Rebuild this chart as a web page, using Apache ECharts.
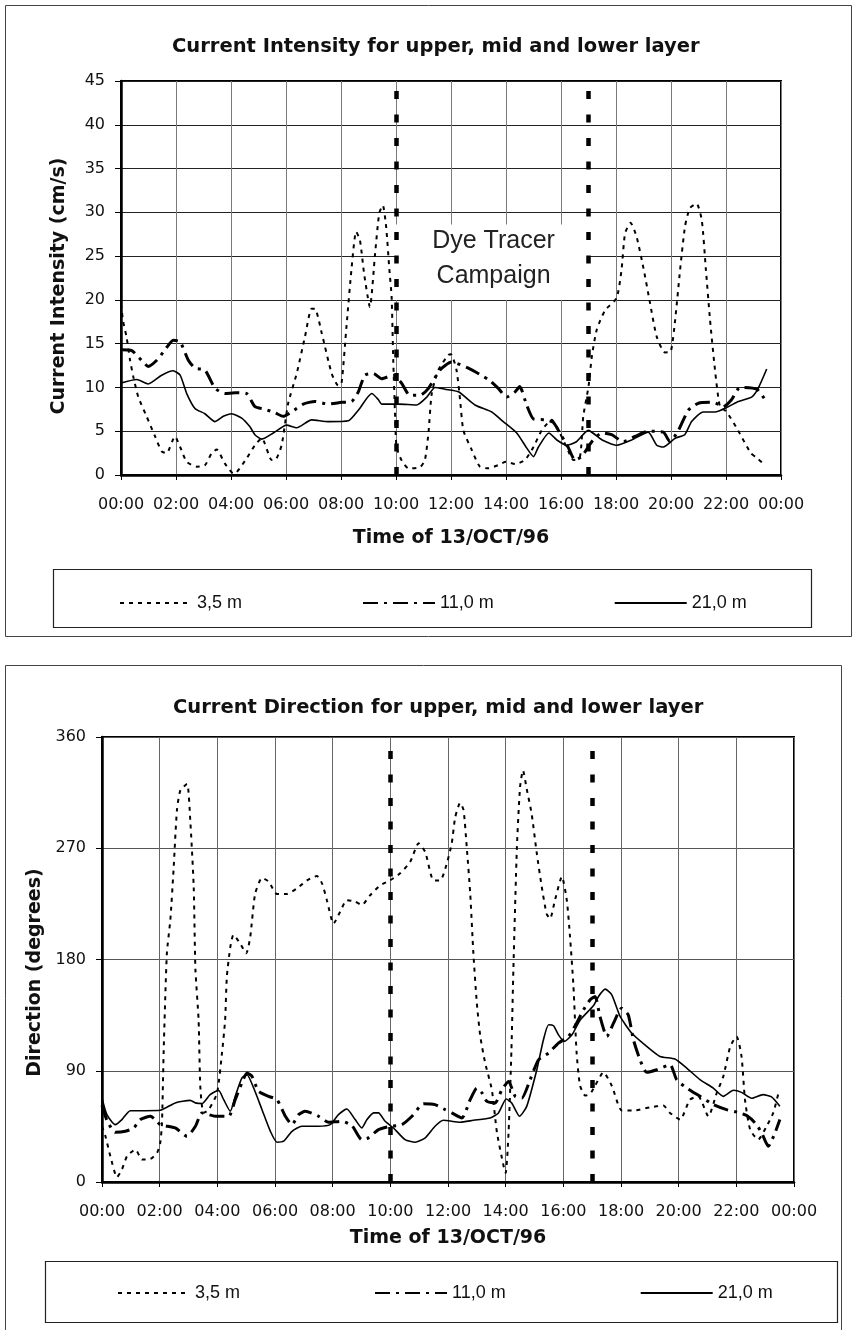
<!DOCTYPE html>
<html>
<head>
<meta charset="utf-8">
<title>Current intensity and direction, 13/OCT/96</title>
<script src="https://cdn.jsdelivr.net/npm/echarts@6/dist/echarts.min.js"></script>
<style>
  html, body { margin: 0; padding: 0; background: #fff; }
  #chart { width: 855px; height: 1330px; }
</style>
</head>
<body>
<div id="chart"></div>
<script>
// legend names
var layers = ["3,5 m", "11,0 m", "21,0 m"];

// x ticks (hours of the day) and the two campaign markers
var hourTicks = [0, 2, 4, 6, 8, 10, 12, 14, 16, 18, 20, 22, 24];
var campaign = [10, 17];

// ---- Current intensity (cm/s) ----
var intHours35 = [0,0.08,0.2,0.33,0.45,0.63,0.93,1.24,1.48,1.66,
  1.96,2.15,2.39,2.75,3.05,3.3,3.48,3.78,4.08,4.2,
  4.57,4.87,5.12,5.48,5.6,5.84,6.08,6.39,6.69,6.93,
  7.05,7.3,7.66,7.9,8.02,8.2,8.39,8.55,8.69,8.84,
  9.05,9.24,9.39,9.52,9.64,9.76,9.84,9.9,9.96,10.02,
  10.2,10.45,10.87,11.05,11.18,11.3,11.54,11.9,12.0,12.2,
  12.33,12.45,12.75,13.05,13.36,13.72,14.0,14.33,14.69,15.0,
  15.3,15.66,15.96,16.27,16.45,16.69,16.81,17.0,17.12,17.3,
  17.6,18.02,18.2,18.33,18.53,18.75,19.0,19.24,19.48,19.78,
  19.99,20.15,20.33,20.51,20.69,20.93,21.12,21.27,21.42,21.6,
  21.78,22.0,22.4,22.9,23.1,23.36];
var intVals35 = [19.5,17.5,15.8,13.1,11.2,8.9,6.7,4.4,2.7,2.5,
  4.4,3.2,1.5,0.95,1.1,2.5,2.9,1.3,0.2,0.3,
  1.9,3.4,4.2,1.7,1.7,3.4,8.2,11.6,15.8,19.0,
  19.0,16.2,11.6,10.2,10.5,17.0,23.8,27.8,26.8,23.0,
  19.2,25.3,29.9,30.8,28.4,23.4,20.4,13.1,7.4,3.2,
  1.7,0.76,0.88,1.7,4.8,9.3,12.0,13.7,13.8,12.0,
  8.6,5.1,2.9,0.95,0.76,1.14,1.5,1.25,1.7,3.2,
  5.1,6.3,4.8,2.7,1.7,2.1,6.7,10.1,13.5,16.6,
  18.8,20.2,23.4,27.6,28.8,27.2,23.6,19.6,15.8,14.0,
  14.1,17.7,23.4,28.4,30.5,31.0,29.1,23.4,17.7,12.0,
  7.8,7.3,5.3,2.5,2.0,1.3];

var intHours11 = [0,0.39,0.75,0.99,1.3,1.6,1.9,2.15,2.45,2.69,
  3.05,3.42,3.78,4.15,4.57,4.87,5.24,5.6,5.9,6.2,
  6.63,7.05,7.54,8.02,8.39,8.63,8.87,9.18,9.48,9.9,
  10.2,10.5,10.87,11.18,11.6,12.02,12.63,13.36,13.72,14.02,
  14.33,14.5,14.75,15.0,15.42,15.72,15.96,16.27,16.51,16.75,
  17.12,17.48,17.84,18.27,18.69,19.17,19.72,19.96,20.27,20.63,
  21.0,21.54,21.9,22.2,22.51,23.12,23.42];
var intVals11 = [14.3,14.2,13.1,12.4,13.1,14.3,15.4,15.2,13.1,12.2,
  12.0,9.9,9.3,9.4,9.3,7.8,7.5,7.1,6.7,7.2,
  8.1,8.4,8.1,8.3,8.4,9.5,11.4,11.6,11.0,11.4,
  10.5,9.1,9.1,9.9,12.0,12.9,12.2,10.9,9.9,8.9,
  9.5,10.1,8.0,6.4,6.3,6.0,4.8,3.1,1.7,2.1,
  3.8,4.8,4.6,3.8,4.4,5.0,4.9,3.8,5.1,7.4,
  8.2,8.3,7.8,8.6,10.0,9.8,8.6];

var intHours21 = [0,0.57,0.99,1.48,1.9,2.15,2.39,2.69,3.05,3.42,
  3.72,4.02,4.39,4.69,4.87,5.12,5.54,6.02,6.39,6.93,
  7.54,8.27,8.63,9.12,9.36,9.48,10.1,10.75,11.12,11.42,
  11.78,12.27,12.87,13.48,13.9,14.39,14.75,15.0,15.18,15.56,
  15.85,16.2,16.56,16.99,17.5,18.03,18.57,19.17,19.48,19.72,
  20.15,20.5,20.75,21.17,21.6,22.08,22.45,22.93,23.17,23.48];
var intVals21 = [10.5,10.9,10.4,11.4,11.9,11.4,9.3,7.6,7.0,6.1,
  6.7,7.0,6.5,5.5,4.6,4.1,4.8,5.7,5.4,6.3,
  6.1,6.2,7.4,9.3,8.6,8.1,8.1,8.0,8.9,10.0,
  9.8,9.5,8.0,7.2,6.1,4.8,3.1,2.1,3.2,4.8,
  4.0,3.4,3.8,5.1,4.0,3.4,4.0,4.9,3.4,3.2,
  4.2,4.6,6.1,7.2,7.2,7.8,8.4,8.9,9.9,12.1];

// ---- Current direction (degrees) ----
var dirHours35 = [0,0.12,0.29,0.52,0.69,0.87,1.16,1.39,1.68,1.91,
  2.02,2.08,2.14,2.25,2.37,2.48,2.6,2.72,2.95,3.06,
  3.18,3.24,3.35,3.41,3.52,3.7,3.99,4.16,4.27,4.33,
  4.45,4.56,4.79,5.0,5.14,5.31,5.55,5.78,6.07,6.41,
  6.76,7.11,7.45,7.63,7.8,8.03,8.26,8.49,8.78,9.01,
  9.3,9.65,9.99,10.34,10.69,10.98,11.21,11.5,11.73,11.96,
  12.13,12.25,12.42,12.54,12.65,12.77,12.88,13.0,13.12,13.29,
  13.52,13.7,13.93,14.0,14.1,14.2,14.27,14.39,14.5,14.6,
  14.73,14.9,15.08,15.25,15.42,15.54,15.71,15.95,16.12,16.23,
  16.35,16.46,16.58,16.76,16.93,17.1,17.39,17.68,18.03,18.43,
  19.0,19.47,19.7,20.05,20.39,20.68,21.03,21.32,21.55,21.79,
  22.01,22.18,22.3,22.48,22.76,23.05,23.28,23.49];
var dirVals35 = [45,37,20.9,3.9,10.1,20.9,26.2,18.2,18.7,23.6,
  31.6,47.8,107,185,212,252,301,317,322,293,
  239,172,131,77,56,58.5,72,104,131,166,
  190,200,193,185,198,233,246,243,233,233,
  237.5,244,247.5,241.6,228,209,218.7,228,226.8,224,
  232,240,244,249.7,259,274,267,244,244,257.7,
  274,295,306.7,300.8,271,233.5,185,144.7,117.8,96.2,
  74.7,39.7,12.8,7.4,39.7,107,174,271,319.7,333,
  318,298,265.8,239,217,213,228,247,228,199,
  158.6,104.8,77.9,69.9,71.3,77.9,88.7,77.9,57.8,57.8,
  60.4,61.8,55.9,50.5,66.6,69.3,53.2,72,85.5,109.7,
  117.8,101.6,66.6,42.4,34.3,45.1,55.9,74.7];

var dirHours11 = [0,0.17,0.46,0.81,1.1,1.33,1.68,1.85,2.02,2.54,
  2.95,3.24,3.47,3.93,4.39,4.62,4.85,5.03,5.2,5.43,
  5.78,6.07,6.36,6.59,6.82,7.05,7.51,7.86,8.32,8.67,
  9.01,9.24,9.59,10.0,10.4,10.75,11.15,11.55,11.9,12.13,
  12.48,12.77,13.0,13.18,13.35,13.63,13.87,14.1,14.33,14.56,
  14.85,15.14,15.49,15.83,16.18,16.46,16.7,16.93,17.1,17.27,
  17.51,17.74,18.02,18.25,18.43,18.66,18.89,19.24,19.7,19.93,
  20.28,20.74,21.2,21.66,22.13,22.36,22.65,22.88,23.11,23.34,
  23.51];
var dirVals11 = [62,50,40.2,41,43.7,50.5,53.2,50.5,46.4,43.7,
  37,45.1,55.9,53.2,53.2,66.6,80.1,88.2,85.5,73.4,
  69.3,66.6,53.2,46.4,54.5,57.2,53.2,48.3,49.1,45.6,
  34.3,35.7,42.4,45.1,46.4,53.2,63.3,62.6,58.5,55.9,
  51.8,66.6,76,72,65.2,63.9,74.7,81.4,69.3,67.9,
  82.8,98.9,104.3,112.4,117.8,128.5,139.3,147.4,150.1,133.9,
  117.8,128.5,140.6,135.3,115.1,98.9,88.7,90.8,94.9,82.8,
  76,69.3,62.6,58.5,55.9,53.7,47.8,39.7,28.9,39.7,
  50.5];

var dirHours21 = [0,0.17,0.46,0.69,0.98,1.5,2.02,2.54,3.06,3.24,
  3.47,3.75,4.04,4.22,4.45,4.62,4.85,5.03,5.26,5.55,
  5.84,6.07,6.3,6.59,6.93,7.51,7.91,8.2,8.49,8.78,
  9.01,9.19,9.42,9.59,9.82,10.11,10.51,10.86,11.21,11.55,
  11.84,12.42,12.88,13.46,13.75,14.02,14.21,14.48,14.73,15.08,
  15.31,15.49,15.66,15.83,16.03,16.3,16.59,17.04,17.22,17.45,
  17.68,17.97,18.37,18.89,19.35,19.87,20.28,20.74,21.2,21.55,
  21.9,22.18,22.53,22.93,23.22,23.51];
var dirVals21 = [68,54.5,46.4,50.5,57.7,57.7,58,64,66,64,
  63.5,70.7,74.2,66.6,57.2,69.3,84.1,86.8,76,58.5,
  41,32.2,33,41,45.1,45.1,46.4,54.5,59.1,50.5,
  43.7,50.5,55.9,55.9,49.1,43.7,34.3,32.2,35.7,45.1,
  49.9,48.3,49.9,51.8,55.9,67.2,63.9,53.2,61.2,90.8,
  115.1,127.2,126.4,119.1,113.7,119.1,131.2,142.5,150.1,156,
  151.4,133.9,120.5,109.7,101.6,99.5,92.2,82.8,76,69.3,
  74.2,72.5,67.7,70.7,68.8,61.2];

function pairs(hours, vals) {
  return hours.map(function (h, i) { return [h, vals[i]]; });
}

function hourLabel(v) {
  var h = v % 24;
  return (h < 10 ? "0" : "") + h + ":00";
}

var dotted = { color: "#000", width: 2, type: [4, 5] };
var dashDot = { color: "#000", width: 3, type: [15, 6, 3, 6] };
var solid = { color: "#000", width: 1.6, type: "solid" };
var layerStyles = [dotted, dashDot, solid];

function layerSeries(idx, list) {
  return list.map(function (d, i) {
    return {
      name: layers[i],
      type: "line",
      xAxisIndex: idx,
      yAxisIndex: idx,
      data: pairs(d[0], d[1]),
      symbol: "none",
      showSymbol: false,
      smooth: 0.2,
      lineStyle: layerStyles[i],
      itemStyle: { color: "#000" },
      z: 3,
      silent: true
    };
  });
}

function campaignLines(idx) {
  return {
    type: "line",
    xAxisIndex: idx,
    yAxisIndex: idx,
    data: [],
    z: 5,
    silent: true,
    markLine: {
      silent: true,
      symbol: ["none", "none"],
      label: { show: false },
      lineStyle: { color: "#000", width: 4.5, type: [8, 15.5] },
      data: campaign.map(function (c) { return { xAxis: c }; })
    }
  };
}

var tickFont = { fontFamily: "DejaVu Sans", fontSize: 16, color: "#111" };
var nameFont = { fontFamily: "DejaVu Sans", fontSize: 19, fontWeight: "bold", color: "#111" };
var titleFont = { fontFamily: "DejaVu Sans", fontSize: 19.5, fontWeight: "bold", color: "#111" };
var legendFont = { fontFamily: "Liberation Sans", fontSize: 18, color: "#111" };

function xAxisFor(idx, gap) {
  return {
    type: "value",
    gridIndex: idx,
    min: 0, max: 24, interval: 2,
    name: "Time of 13/OCT/96",
    nameLocation: "middle",
    nameGap: gap,
    nameTextStyle: nameFont,
    axisLine: { show: true, lineStyle: { color: "#000", width: 2.5 } },
    axisTick: { show: true, length: 5, lineStyle: { color: "#000", width: 1 } },
    axisLabel: Object.assign({ margin: 22, formatter: hourLabel }, tickFont),
    splitLine: { show: true, lineStyle: { color: idx === 0 ? "#7a7a7a" : "#666", width: 1 } }
  };
}

function yAxisFor(idx, max, step, name, gap, pad) {
  return {
    type: "value",
    gridIndex: idx,
    min: 0, max: max, interval: step,
    name: name,
    nameLocation: "middle",
    nameGap: gap,
    nameTextStyle: Object.assign({ padding: pad }, nameFont),
    axisLine: { show: true, lineStyle: { color: "#000", width: 2.5 } },
    axisTick: { show: true, length: 6, lineStyle: { color: "#000", width: 1 } },
    axisLabel: Object.assign({ margin: 16 }, tickFont),
    splitLine: { show: true, lineStyle: { color: idx === 0 ? "#222" : "#555", width: 1 } }
  };
}

function legendFor(left, top, gap) {
  return {
    data: layers,
    left: left, top: top,
    itemWidth: 72, itemHeight: 14, itemGap: gap,
    selectedMode: false,
    itemStyle: { opacity: 0 },
    textStyle: legendFont
  };
}

var chart = echarts.init(document.getElementById("chart"));

var series = []
  .concat(layerSeries(0, [[intHours35, intVals35], [intHours11, intVals11], [intHours21, intVals21]]))
  .concat(layerSeries(1, [[dirHours35, dirVals35], [dirHours11, dirVals11], [dirHours21, dirVals21]]))
  .concat([
    {
      // white label box between the two campaign markers
      type: "line",
      xAxisIndex: 0,
      yAxisIndex: 0,
      data: [],
      z: 1,
      silent: true,
      markArea: {
        silent: true,
        itemStyle: { color: "#fff", borderWidth: 0 },
        label: {
          show: true,
          position: "inside",
          formatter: "Dye Tracer\nCampaign",
          fontFamily: "Liberation Sans",
          fontSize: 25,
          lineHeight: 35,
          color: "#222",
          offset: [2, -4]
        },
        data: [[{ xAxis: 10, yAxis: 20 }, { xAxis: 16.95, yAxis: 28.6 }]]
      }
    },
    campaignLines(0),
    campaignLines(1)
  ]);

chart.setOption({
  animation: false,
  backgroundColor: "#fff",
  textStyle: { fontFamily: "DejaVu Sans" },
  title: [
    {
      text: "Current Intensity for upper, mid and lower layer",
      left: 172,
      top: 37,
      padding: 0,
      textStyle: titleFont
    },
    {
      text: "Current Direction for upper, mid and lower layer",
      left: 173,
      top: 698,
      padding: 0,
      textStyle: titleFont
    }
  ],
  legend: [legendFor(114, 589, 120), legendFor(112, 1279, 134)],
  grid: [
    { left: 121, top: 81, width: 660, height: 394, show: true, borderColor: "#000", borderWidth: 2, containLabel: false },
    { left: 102, top: 737, width: 692, height: 445, show: true, borderColor: "#000", borderWidth: 2, containLabel: false }
  ],
  xAxis: [xAxisFor(0, 54), xAxisFor(1, 47)],
  yAxis: [
    yAxisFor(0, 45, 5, "Current Intensity (cm/s)", 52, [0, 16, 0, 0]),
    yAxisFor(1, 360, 90, "Direction (degrees)", 57, [0, 26, 0, 0])
  ],
  graphic: [
    { type: "rect", silent: true, shape: { x: 5.5, y: 5.5, width: 846, height: 631 }, style: { fill: "none", stroke: "#444", lineWidth: 1 } },
    { type: "rect", silent: true, shape: { x: 53.5, y: 569.5, width: 758, height: 58 }, style: { fill: "none", stroke: "#222", lineWidth: 1.2 } },
    { type: "rect", silent: true, shape: { x: 5.5, y: 665.5, width: 836, height: 668 }, style: { fill: "none", stroke: "#444", lineWidth: 1 } },
    { type: "rect", silent: true, shape: { x: 45.5, y: 1261.5, width: 792, height: 61 }, style: { fill: "none", stroke: "#222", lineWidth: 1.2 } }
  ],
  series: series
});
</script>
</body>
</html>
